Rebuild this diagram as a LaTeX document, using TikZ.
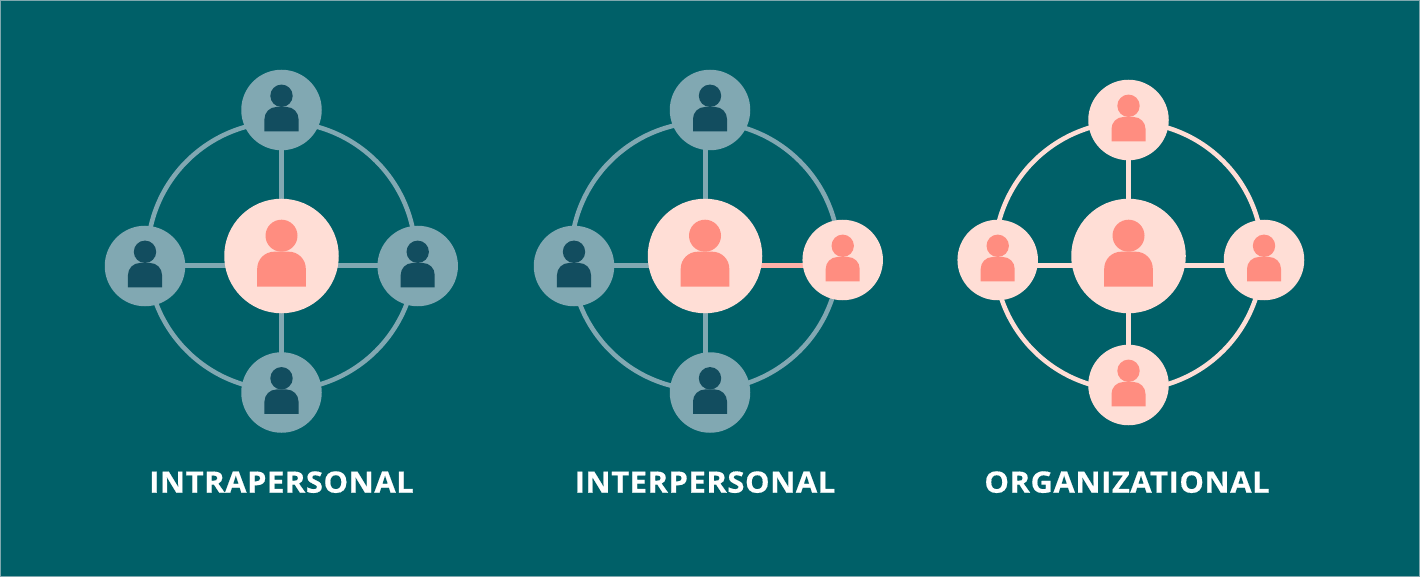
\documentclass[tikz,border=0pt]{standalone}
\usepackage{fontspec}
\setmainfont{Open Sans}[LetterSpace=1.8, BoldFeatures={FakeBold=0.5, FakeStretch=1.05}]
\definecolor{panel}{HTML}{006068}
\definecolor{edgeline}{HTML}{7FA8AE}
\definecolor{steel}{HTML}{81A8B2}
\definecolor{ink}{HTML}{124D5F}
\definecolor{blush}{HTML}{FFDED6}
\definecolor{salmon}{HTML}{FF8D80}
\definecolor{rose}{HTML}{FFB1A8}
\pgfdeclarelayer{back}
\pgfdeclarelayer{links}
\pgfsetlayers{back,links,main}

\tikzstyle{hub}=[circle, fill=blush, inner sep=0, outer sep=0, minimum size=114.5pt]
\tikzstyle{coolsat}=[circle, fill=steel, inner sep=0, outer sep=0, minimum size=80.5pt]
\tikzstyle{warmsat}=[coolsat, fill=blush]
\tikzstyle{ringline}=[line width=4.6pt]
\tikzstyle{link}=[line width=5pt]
\tikzstyle{caption}=[anchor=base, text=white, inner sep=0, font=\fontsize{29.5}{30}\selectfont\bfseries]
\tikzset{person/.pic={
	\fill[pic actions] (0,-20.3) circle (16pt);
	\fill[pic actions] (-24.3,30.7) -- (-24.3,12.7) .. controls (-24.3,3.3) and (-16.7,-4.3) .. (-7.3,-4.3)
		-- (7.3,-4.3) .. controls (16.7,-4.3) and (24.3,3.3) .. (24.3,12.7) -- (24.3,30.7) -- cycle;
}}

\begin{document}
\begin{tikzpicture}[x=1pt, y=-1pt]
	\useasboundingbox (0,0) rectangle (1420,577);
	\begin{pgfonlayer}{back}
		\fill[panel] (0,0) rectangle (1420,577);
		\draw[edgeline, line width=1pt] (0.5,0.5) rectangle (1419.5,576.5);
	\end{pgfonlayer}
	\foreach \pos/\name in {{(281.5,256)/IntraHub}, {(705,256)/InterHub}, {(1128.5,256)/OrgHub}}
		\node[hub] (\name) at \pos {};
	\foreach \pos/\name in {{(281.5,110)/IntraTop}, {(281.5,392.5)/IntraBottom}, {(145,266)/IntraLeft}, {(417.7,266)/IntraRight},
				{(710,110)/InterTop}, {(710,392.5)/InterBottom}, {(574,266)/InterLeft}}
		\node[coolsat] (\name) at \pos {};
	\foreach \pos/\name in {{(842.7,260)/InterRight}, {(1128.5,120)/OrgTop}, {(1128.5,385)/OrgBottom},
				{(997.7,260)/OrgLeft}, {(1264,260)/OrgRight}}
		\node[warmsat] (\name) at \pos {};

	\foreach \name in {IntraHub, InterHub, OrgHub}
		\pic[fill=salmon] at (\name.center) {person};
	\foreach \name in {InterRight, OrgTop, OrgBottom, OrgLeft, OrgRight}
		\pic[fill=salmon, scale=0.7] at (\name.center) {person};
	\foreach \name in {IntraTop, IntraBottom, IntraLeft, IntraRight, InterTop, InterBottom, InterLeft}
		\pic[fill=ink, scale=0.7] at (\name.center) {person};

	\begin{pgfonlayer}{links}
		\foreach \source/\tone in {IntraHub/steel, InterHub/steel, OrgHub/blush}
			\draw[ringline, \tone] (\source.center) circle (134pt);
		\foreach \source/\dest/\tone in {IntraHub/IntraTop/steel, IntraHub/IntraBottom/steel, InterHub/InterTop/steel,
					InterHub/InterBottom/steel, OrgHub/OrgTop/blush, OrgHub/OrgBottom/blush}
			\draw[link, \tone] (\source.center) -- (\source.center |- \dest.center);
		\foreach \source/\dest/\tone in {IntraHub/IntraLeft/steel, IntraHub/IntraRight/steel, InterHub/InterLeft/steel,
					InterHub/InterRight/rose, OrgHub/OrgLeft/blush, OrgHub/OrgRight/blush}
			\draw[link, \tone] ([yshift=-9.7pt]\source.center) -- ([yshift=-9.7pt]\source.center -| \dest.center);
	\end{pgfonlayer}

	\node[caption] (IntraLabel) at (281.5,492.7) {INTRAPERSONAL};
	\node[caption] (InterLabel) at (705,492.7) {INTERPERSONAL};
	\node[caption] (OrgLabel) at (1127,492.7) {ORGANIZATIONAL};
\end{tikzpicture}
\end{document}
